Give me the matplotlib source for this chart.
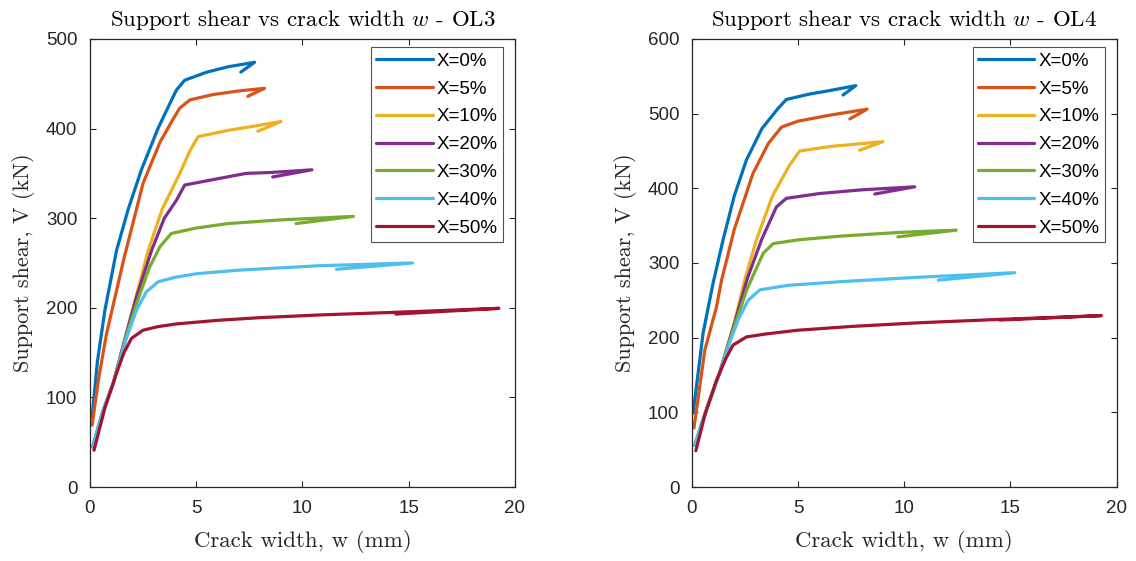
import numpy as np
import matplotlib
matplotlib.use("Agg")
import matplotlib.pyplot as plt

plt.rcParams['mathtext.fontset'] = 'cm'
plt.rcParams['font.family'] = ['Liberation Sans', 'DejaVu Sans']

labels = ["X=0%", "X=5%", "X=10%", "X=20%", "X=30%", "X=40%", "X=50%"]
colors = ["#0072BD", "#D95319", "#EDB120", "#7E2F8E", "#77AC30", "#4DBEEE", "#A2142F"]

# OL3 curves (crack width mm, shear kN)
ol3_x0 = [0.1, 0.35, 0.7, 1.25, 1.8, 2.42, 3.2, 3.7, 4.07, 4.46, 5.5, 6.5, 7.75, 7.1]
ol3_v0 = [78, 140, 197, 264, 310, 354, 400, 425, 443, 454, 463, 469, 474, 463]
ol3_x5 = [0.1, 0.4, 0.78, 1.6, 2.5, 3.3, 3.9, 4.23, 4.7, 5.8, 7.0, 8.22, 7.43]
ol3_v5 = [69, 120, 171, 255, 339, 385, 410, 423, 432, 438, 442, 445, 436]
ol3_x10 = [0.13, 0.6, 1.1, 1.7, 2.2, 2.74, 3.4, 4.23, 4.7, 5.09, 6.5, 7.8, 9.0, 7.9]
ol3_v10 = [45, 84, 116, 170, 215, 264, 310, 350, 375, 391, 398, 403, 408, 397]
ol3_x20 = [0.13, 0.6, 1.1, 1.7, 2.2, 2.9, 3.5, 4.07, 4.46, 6.0, 7.35, 8.5, 10.45, 8.6]
ol3_v20 = [45, 84, 116, 170, 213, 264, 300, 320, 337, 344, 350, 351, 354, 346]
ol3_x30 = [0.13, 0.6, 1.1, 1.7, 2.2, 2.8, 3.29, 3.83, 5.0, 6.5, 8.9, 12.4, 9.7]
ol3_v30 = [45, 84, 116, 168, 205, 245, 268, 283, 289, 294, 298, 302, 294]
ol3_x40 = [0.13, 0.6, 1.1, 1.7, 2.2, 2.66, 3.21, 4.0, 5.0, 7.0, 10.8, 15.18, 11.6]
ol3_v40 = [45, 84, 116, 165, 198, 218, 229, 234, 238, 242, 247, 250, 243]
ol3_x50 = [0.19, 0.7, 1.25, 1.6, 1.96, 2.5, 3.2, 4.07, 6.0, 8.0, 10.8, 14.4, 19.25, 14.4]
ol3_v50 = [41, 88, 127, 150, 166, 175, 179, 182, 186, 189, 192, 195, 199.4, 193]

# OL4 curves
ol4_x0 = [0.06, 0.53, 1.0, 1.47, 2.0, 2.57, 3.3, 4.06, 4.45, 5.5, 6.5, 7.72, 7.12]
ol4_v0 = [99, 206, 273, 331, 390, 438, 480, 507, 519, 526, 531, 537.5, 525]
ol4_x5 = [0.1, 0.61, 1.16, 1.4, 2.0, 2.88, 3.6, 4.22, 5.0, 6.5, 8.25, 7.44]
ol4_v5 = [79, 183, 241, 277, 345, 420, 460, 482, 490, 498, 506, 493]
ol4_x10 = [0.14, 0.7, 1.3, 2.0, 2.49, 3.04, 3.8, 4.6, 5.08, 6.5, 9.0, 7.9]
ol4_v10 = [56, 105, 152, 220, 277, 331, 390, 431, 450, 456, 462.5, 451]
ol4_x20 = [0.14, 0.7, 1.3, 2.0, 2.6, 3.28, 3.98, 4.45, 6.0, 8.0, 10.49, 8.61]
ol4_v20 = [56, 105, 152, 218, 278, 331, 375, 386.6, 393, 398, 402, 392.4]
ol4_x30 = [0.14, 0.7, 1.3, 2.0, 2.6, 3.36, 3.83, 5.0, 7.0, 9.79, 12.45, 9.7]
ol4_v30 = [56, 105, 152, 215, 265, 313, 326, 331, 336, 341, 344, 335]
ol4_x40 = [0.14, 0.7, 1.3, 1.8, 2.2, 2.65, 3.2, 4.5, 7.0, 10.73, 15.2, 11.6]
ol4_v40 = [56, 105, 152, 195, 225, 250, 264, 270, 275, 281, 287, 277]
ol4_x50 = [0.19, 0.6, 1.16, 1.6, 1.94, 2.57, 3.5, 5.0, 7.5, 10.73, 14.49, 19.28, 14.49]
ol4_v50 = [48.6, 95, 143, 172, 190, 201, 205, 210, 215, 220, 224.5, 229.5, 223.6]

ol3 = [(ol3_x0, ol3_v0), (ol3_x5, ol3_v5), (ol3_x10, ol3_v10), (ol3_x20, ol3_v20),
       (ol3_x30, ol3_v30), (ol3_x40, ol3_v40), (ol3_x50, ol3_v50)]
ol4 = [(ol4_x0, ol4_v0), (ol4_x5, ol4_v5), (ol4_x10, ol4_v10), (ol4_x20, ol4_v20),
       (ol4_x30, ol4_v30), (ol4_x40, ol4_v40), (ol4_x50, ol4_v50)]

serif = 'cmr10'
axcol = '#262626'

fig = plt.figure(figsize=(11.36, 5.61), dpi=100)
ax1 = fig.add_axes([0.0792, 0.1319, 0.374, 0.7986])
ax2 = fig.add_axes([0.609, 0.1319, 0.374, 0.7986])

for ax, data, name, ymax in [(ax1, ol3, "OL3", 500), (ax2, ol4, "OL4", 600)]:
    for (x, v), lab, c in zip(data, labels, colors):
        ax.plot(x, v, color=c, lw=2.3, label=lab, solid_joinstyle='round', solid_capstyle='round')
    ax.set_xlim(0, 20)
    ax.set_ylim(0, ymax)
    ax.set_xticks([0, 5, 10, 15, 20])
    ax.tick_params(direction='in', top=True, right=True, labelsize=13.5,
                   colors=axcol, length=4, width=0.8, pad=9)
    for s in ax.spines.values():
        s.set_color(axcol)
        s.set_linewidth(0.9)
    ax.set_title("Support shear vs crack width $w$ - " + name, fontfamily=serif,
                 fontsize=16.5, pad=9)
    ax.set_xlabel("Crack width, w (mm)", fontfamily=serif, fontsize=16.5, color=axcol, labelpad=10)
    ax.set_ylabel("Support shear, V (kN)", fontfamily=serif, fontsize=16, color=axcol, labelpad=8)
    leg = ax.legend(loc='upper right', bbox_to_anchor=(0.972, 0.982), borderaxespad=0,
                    fontsize=13.5, handlelength=3.0, frameon=True, fancybox=False,
                    edgecolor=axcol, labelspacing=0.57, handletextpad=0.2, borderpad=0.3)
    leg.get_frame().set_linewidth(0.8)

fig.savefig("out.png", dpi=100)
